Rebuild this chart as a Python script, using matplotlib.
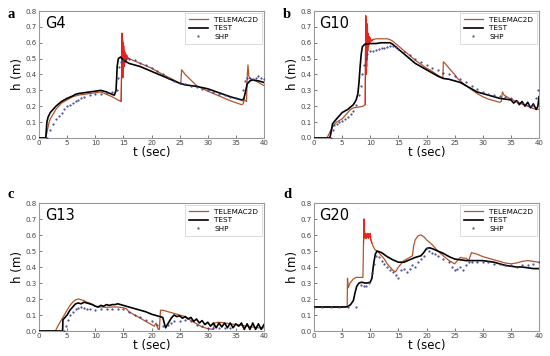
import numpy as np
import matplotlib
matplotlib.use("Agg")
import matplotlib.pyplot as plt

# ---------------- data (t [sec], h [m]) ----------------
gauges = ["G4", "G10", "G13", "G20"]
panel_letters = ["a", "b", "c", "d"]
series_names = ["TELEMAC2D", "TEST", "SHP"]
x_ticks = [0, 5, 10, 15, 20, 25, 30, 35, 40]
y_ticks = [0.0, 0.1, 0.2, 0.3, 0.4, 0.5, 0.6, 0.7, 0.8]

g4_telemac = np.array([
    [0, 0], [1.2, 0], [1.5, 0.05], [1.8, 0.1], [2, 0.12], [3, 0.18], [4, 0.22], [5, 0.24],
    [6, 0.26], [7, 0.27], [8, 0.275], [9, 0.28], [10, 0.285], [11, 0.29], [12, 0.275],
    [13, 0.26], [14, 0.24], [14.6, 0.23], [14.7, 0.45], [14.75, 0.66], [14.8, 0.4],
    [14.85, 0.62], [14.9, 0.38], [14.95, 0.6], [15.0, 0.42], [15.05, 0.58], [15.1, 0.45],
    [15.15, 0.55], [15.2, 0.47], [15.25, 0.54], [15.3, 0.48], [15.4, 0.53], [15.5, 0.49],
    [15.6, 0.52], [15.7, 0.5], [15.8, 0.505], [16, 0.5], [18, 0.47], [20, 0.44], [22, 0.4],
    [24, 0.365], [25.2, 0.34], [25.35, 0.43], [26, 0.40], [27, 0.365], [28, 0.33],
    [30, 0.295], [32, 0.265], [34, 0.235], [36, 0.21], [36.3, 0.215], [36.5, 0.24],
    [36.9, 0.23], [37.0, 0.38], [37.15, 0.46], [37.3, 0.39], [37.6, 0.37], [38, 0.37],
    [39, 0.35], [40, 0.33]])
g4_test = np.array([
    [0, 0], [1.2, 0], [1.4, 0.1], [1.6, 0.13], [2, 0.16], [3, 0.2], [4, 0.23], [5, 0.25],
    [6, 0.265], [6.5, 0.275], [7, 0.28], [8, 0.285], [9, 0.29], [10, 0.295], [11, 0.3],
    [12, 0.29], [13, 0.275], [13.4, 0.27], [13.7, 0.3], [13.9, 0.45], [14.1, 0.5],
    [14.5, 0.51], [15, 0.49], [15.5, 0.48], [16, 0.47], [18, 0.45], [20, 0.42], [22, 0.39],
    [24, 0.36], [25, 0.345], [26, 0.335], [27, 0.33], [28, 0.325], [30, 0.31], [32, 0.285],
    [34, 0.26], [35, 0.25], [36, 0.24], [36.4, 0.245], [36.7, 0.29], [37, 0.34],
    [37.5, 0.36], [38, 0.365], [39, 0.36], [40, 0.35]])
g4_shp = np.array([
    [1.5, 0.0], [2, 0.05], [2.5, 0.09], [3, 0.12], [3.5, 0.14], [4, 0.16], [4.5, 0.18],
    [5, 0.2], [5.5, 0.21], [6, 0.22], [6.5, 0.23], [7, 0.24], [7.5, 0.25], [8, 0.26],
    [9, 0.27], [10, 0.275], [11, 0.28], [12, 0.285], [13, 0.29], [13.8, 0.3], [14.1, 0.38],
    [14.3, 0.45], [14.5, 0.48], [15, 0.49], [15.5, 0.5], [16, 0.5], [17, 0.49], [18, 0.47],
    [19, 0.46], [20, 0.44], [21, 0.42], [22, 0.4], [23, 0.38], [24, 0.36], [25, 0.345],
    [26, 0.34], [27, 0.33], [28, 0.32], [29, 0.31], [30, 0.3], [31, 0.29], [32, 0.28],
    [33, 0.27], [34, 0.26], [35, 0.25], [36, 0.24], [36.3, 0.3], [36.6, 0.36], [37, 0.38],
    [37.5, 0.38], [38, 0.37], [38.5, 0.38], [39, 0.39], [39.5, 0.38], [40, 0.37]])

g10_telemac = np.array([
    [0, 0], [2.3, 0], [3, 0.05], [3.5, 0.08], [4, 0.1], [5, 0.12], [6, 0.16], [6.5, 0.18],
    [7, 0.19], [8, 0.195], [8.7, 0.2], [9.1, 0.21], [9.15, 0.5], [9.2, 0.77], [9.25, 0.4],
    [9.3, 0.75], [9.35, 0.45], [9.4, 0.72], [9.45, 0.5], [9.5, 0.7], [9.55, 0.55],
    [9.6, 0.66], [9.7, 0.58], [9.8, 0.64], [9.9, 0.6], [10.0, 0.63], [10.2, 0.61],
    [10.5, 0.62], [11, 0.625], [12, 0.625], [13, 0.625], [13.5, 0.62], [14, 0.61],
    [15, 0.58], [16, 0.55], [17, 0.52], [18, 0.49], [19, 0.465], [20, 0.44], [21, 0.42],
    [22, 0.395], [22.9, 0.375], [23.0, 0.48], [23.3, 0.47], [24, 0.44], [25, 0.4],
    [25.5, 0.375], [26, 0.36], [27, 0.33], [28, 0.305], [29, 0.28], [30, 0.26], [31, 0.245],
    [32, 0.235], [33, 0.225], [33.3, 0.23], [33.5, 0.29], [33.8, 0.27], [34.5, 0.255],
    [35, 0.245], [36, 0.23], [37, 0.215], [38, 0.2], [39, 0.185], [40, 0.18]])
g10_test = np.array([
    [0, 0], [2.8, 0], [3.0, 0.03], [3.3, 0.09], [4, 0.12], [5, 0.16], [6, 0.18], [7, 0.21],
    [7.5, 0.24], [7.8, 0.28], [8.0, 0.35], [8.2, 0.45], [8.4, 0.53], [8.6, 0.575],
    [9, 0.59], [10, 0.595], [11, 0.595], [12, 0.6], [13, 0.6], [13.5, 0.6], [14, 0.59],
    [15, 0.56], [16, 0.53], [17, 0.5], [18, 0.47], [19, 0.45], [20, 0.43], [21, 0.41],
    [22, 0.39], [23, 0.375], [24, 0.37], [25, 0.36], [26, 0.35], [27, 0.33], [28, 0.31],
    [29, 0.29], [30, 0.28], [31, 0.27], [32, 0.26], [33, 0.25], [34, 0.245], [35, 0.24],
    [35.5, 0.22], [36, 0.235], [36.5, 0.21], [37, 0.23], [37.5, 0.2], [38, 0.225],
    [38.5, 0.19], [39, 0.215], [39.5, 0.18], [39.8, 0.2], [40, 0.26]])
g10_shp = np.array([
    [3, 0], [3.3, 0.05], [3.6, 0.08], [4, 0.09], [4.5, 0.1], [5, 0.11], [5.5, 0.12],
    [6, 0.13], [6.5, 0.15], [7, 0.17], [7.5, 0.21], [8, 0.27], [8.3, 0.33], [8.6, 0.4],
    [8.9, 0.46], [9.2, 0.5], [9.5, 0.53], [10, 0.545], [10.5, 0.55], [11, 0.555],
    [11.5, 0.56], [12, 0.565], [12.5, 0.57], [13, 0.575], [13.5, 0.58], [14, 0.58],
    [14.5, 0.575], [15, 0.56], [16, 0.54], [17, 0.52], [18, 0.5], [19, 0.48], [20, 0.46],
    [21, 0.44], [22, 0.43], [23, 0.41], [24, 0.4], [25, 0.39], [26, 0.37], [27, 0.35],
    [28, 0.33], [29, 0.31], [30, 0.29], [31, 0.28], [32, 0.27], [33, 0.265], [34, 0.26],
    [35, 0.25], [36, 0.235], [37, 0.22], [38, 0.21], [38.5, 0.2], [39, 0.21], [39.5, 0.25],
    [39.8, 0.3]])

g13_telemac = np.array([
    [0, 0], [2.9, 0], [3.5, 0.04], [4, 0.07], [4.5, 0.1], [5, 0.13], [5.5, 0.16], [6, 0.18],
    [6.5, 0.195], [7, 0.2], [7.5, 0.195], [8, 0.19], [8.5, 0.18], [9, 0.175], [9.5, 0.165],
    [10, 0.155], [10.5, 0.15], [11, 0.15], [12, 0.148], [13, 0.15], [14, 0.15],
    [15, 0.145], [15.5, 0.14], [16, 0.12], [17, 0.1], [18, 0.08], [19, 0.06], [19.5, 0.05],
    [20, 0.04], [20.5, 0.03], [20.8, 0.05], [21.2, 0.01], [21.4, 0.01], [21.6, 0.13],
    [22, 0.13], [23, 0.12], [24, 0.11], [25, 0.1], [26, 0.09], [26.5, 0.08], [27, 0.065],
    [28, 0.045], [29, 0.025], [30, 0.015], [31, 0.01], [31.2, 0.05], [32, 0.055],
    [33, 0.05], [34, 0.045], [35, 0.04], [36, 0.035], [37, 0.03], [38, 0.025], [39, 0.02],
    [40, 0.02]])
g13_test = np.array([
    [0, 0], [4.2, 0], [4.25, 0.07], [4.5, 0.08], [5, 0.1], [5.5, 0.13], [6, 0.15],
    [6.5, 0.17], [7, 0.175], [7.5, 0.17], [8, 0.18], [8.5, 0.175], [9, 0.17], [9.5, 0.165],
    [10, 0.155], [10.5, 0.15], [11, 0.16], [11.5, 0.155], [12, 0.165], [12.5, 0.16],
    [13, 0.165], [13.5, 0.165], [14, 0.17], [14.5, 0.165], [15, 0.16], [15.5, 0.155],
    [16, 0.15], [17, 0.14], [18, 0.13], [19, 0.12], [20, 0.105], [21, 0.095], [21.5, 0.09],
    [22, 0.085], [22.5, 0.02], [23, 0.05], [23.5, 0.08], [24, 0.1], [24.5, 0.09],
    [25, 0.095], [25.5, 0.08], [26, 0.09], [26.5, 0.075], [27, 0.085], [27.5, 0.06],
    [28, 0.075], [28.5, 0.05], [29, 0.065], [29.5, 0.04], [30, 0.055], [30.5, 0.03],
    [31, 0.05], [31.5, 0.02], [32, 0.05], [32.5, 0.025], [33, 0.05], [33.5, 0.02],
    [34, 0.05], [34.5, 0.02], [35, 0.045], [35.5, 0.03], [36, 0.05], [36.5, 0.01],
    [37, 0.045], [37.5, 0.01], [38, 0.05], [38.5, 0.01], [39, 0.045], [39.5, 0.01],
    [40, 0.04]])
g13_shp = np.array([
    [4.5, 0], [4.8, 0.03], [5.1, 0.07], [5.5, 0.1], [6, 0.12], [6.5, 0.14], [7, 0.145],
    [7.5, 0.15], [8, 0.145], [8.5, 0.14], [9, 0.135], [10, 0.13], [11, 0.135], [12, 0.14],
    [13, 0.14], [14, 0.14], [15, 0.135], [16, 0.12], [17, 0.1], [18, 0.085], [19, 0.07],
    [20, 0.06], [21, 0.04], [22, 0.03], [23, 0.04], [23.5, 0.05], [24, 0.06], [25, 0.065],
    [26, 0.07], [27, 0.06], [28, 0.04], [29, 0.03], [30, 0.02], [31, 0.02], [32, 0.02],
    [33, 0.02], [34, 0.02]])

g20_telemac = np.array([
    [0, 0.15], [5.9, 0.15], [5.95, 0.33], [6.1, 0.27], [6.4, 0.3], [7, 0.325],
    [7.5, 0.335], [8, 0.335], [8.7, 0.335], [8.8, 0.55], [8.9, 0.7], [9.0, 0.6],
    [9.1, 0.58], [9.2, 0.61], [9.3, 0.58], [9.4, 0.6], [9.5, 0.585], [9.6, 0.61],
    [9.7, 0.58], [9.8, 0.6], [9.9, 0.59], [10.0, 0.61], [10.1, 0.57], [10.3, 0.55],
    [10.5, 0.53], [10.8, 0.51], [11.5, 0.49], [12, 0.47], [12.5, 0.45], [13, 0.42],
    [13.5, 0.4], [14, 0.38], [14.5, 0.37], [15, 0.4], [15.5, 0.42], [16, 0.44], [17, 0.46],
    [17.5, 0.47], [17.7, 0.53], [18, 0.57], [18.5, 0.595], [19, 0.6], [19.5, 0.59],
    [20, 0.57], [21, 0.54], [22, 0.5], [23, 0.47], [24, 0.44], [25, 0.42], [25.5, 0.44],
    [26, 0.46], [26.5, 0.455], [27, 0.455], [27.5, 0.44], [28, 0.49], [29, 0.48],
    [30, 0.465], [31, 0.455], [32, 0.445], [33, 0.435], [34, 0.425], [35, 0.42],
    [36, 0.425], [37, 0.435], [38, 0.44], [39, 0.435], [40, 0.43]])
g20_test = np.array([
    [0, 0.15], [5, 0.15], [6, 0.152], [6.5, 0.165], [7, 0.19], [7.3, 0.24], [7.6, 0.28],
    [8, 0.3], [8.5, 0.305], [9, 0.3], [9.5, 0.3], [10, 0.305], [10.3, 0.33], [10.6, 0.42],
    [10.9, 0.48], [11.2, 0.5], [12, 0.49], [13, 0.465], [14, 0.445], [15, 0.43], [16, 0.43],
    [17, 0.445], [18, 0.46], [19, 0.47], [19.5, 0.49], [20, 0.515], [20.5, 0.52],
    [21, 0.515], [22, 0.5], [23, 0.485], [24, 0.465], [25, 0.45], [26, 0.445], [27, 0.44],
    [28, 0.44], [29, 0.44], [30, 0.44], [31, 0.435], [32, 0.43], [33, 0.42], [34, 0.41],
    [35, 0.405], [36, 0.4], [37, 0.4], [38, 0.395], [39, 0.39], [40, 0.39]])
g20_shp = np.array([
    [0, 0.15], [1.5, 0.15], [3, 0.15], [4.5, 0.15], [6, 0.15], [7.5, 0.15], [8.3, 0.29],
    [8.8, 0.28], [9.3, 0.28], [9.8, 0.3], [10.3, 0.36], [10.7, 0.42], [11.1, 0.47],
    [11.5, 0.46], [12, 0.44], [12.5, 0.42], [13, 0.4], [13.5, 0.38], [14, 0.37],
    [14.5, 0.35], [15, 0.33], [15.5, 0.38], [16, 0.39], [16.5, 0.37], [17, 0.39],
    [17.5, 0.41], [18, 0.4], [18.5, 0.43], [19, 0.45], [19.5, 0.47], [20, 0.52],
    [20.5, 0.5], [21, 0.49], [21.5, 0.48], [22, 0.47], [23, 0.45], [24, 0.43], [24.5, 0.4],
    [25, 0.38], [25.5, 0.39], [26, 0.4], [26.5, 0.38], [27, 0.41], [27.5, 0.43], [28, 0.43],
    [29, 0.43], [30, 0.43], [31, 0.43], [32, 0.42], [33, 0.42], [34, 0.41], [35, 0.41],
    [36, 0.4], [37, 0.41], [38, 0.41], [39, 0.42], [40, 0.43]])

# time windows of the strongly oscillating TELEMAC2D response (drawn in red)
osc_windows = [(14.6, 16.0), (9.1, 10.5), None, (8.75, 10.3)]

telemac_data = [g4_telemac, g10_telemac, g13_telemac, g20_telemac]
test_data = [g4_test, g10_test, g13_test, g20_test]
shp_data = [g4_shp, g10_shp, g13_shp, g20_shp]

# ---------------- figure ----------------
fig = plt.figure(figsize=(5.5, 3.56), dpi=100)
W, H = 550, 356
boxes = [(39, 11, 264, 138), (314, 11, 539, 138), (39, 203, 264, 331), (314, 203, 539, 331)]
letter_pos = [(7, 15), (283, 15), (7, 195), (283, 195)]

TEL_COLOR = "#b5532a"
for i in range(4):
    x0, y0, x1, y1 = boxes[i]
    ax = fig.add_axes([x0 / W, 1 - y1 / H, (x1 - x0) / W, (y1 - y0) / H])
    tel, tst, shp = telemac_data[i], test_data[i], shp_data[i]
    ax.plot(tel[:, 0], tel[:, 1], color=TEL_COLOR, lw=0.9, label=series_names[0], zorder=3)
    win = osc_windows[i]
    if win is not None:
        m = (tel[:, 0] >= win[0]) & (tel[:, 0] <= win[1])
        ax.plot(tel[m, 0], tel[m, 1], color="#e8231c", lw=0.8, zorder=3.5)
    ax.plot(tst[:, 0], tst[:, 1], color="black", lw=1.2, label=series_names[1], zorder=4)
    ax.plot(shp[:, 0], shp[:, 1], ls="none", marker=".", ms=1.1, color="#3a3f86",
            label=series_names[2], zorder=5)
    ax.set_xlim(0, 40)
    ax.set_ylim(0, 0.8)
    ax.set_xticks(x_ticks)
    ax.set_yticks(y_ticks)
    ax.set_yticklabels([f"{v:.1f}" for v in y_ticks])
    ax.tick_params(direction="in", length=2, width=0.5, labelsize=5, pad=1.5,
                   colors="#444444")
    for s in ax.spines.values():
        s.set_color("#999999")
        s.set_linewidth(0.8)
    ax.set_xlabel("t (sec)", fontsize=8.5, labelpad=0)
    ax.set_ylabel("h (m)", fontsize=8.5, labelpad=1)
    ax.text(0.025, 0.96, gauges[i], transform=ax.transAxes, ha="left", va="top",
            fontsize=10.5)
    leg = ax.legend(loc="upper right", fontsize=5.2, frameon=True, fancybox=False,
                    borderpad=0.5, labelspacing=0.35, handlelength=2.6, handletextpad=0.9,
                    borderaxespad=0.3, markerscale=1.0)
    leg.get_frame().set_edgecolor("#cccccc")
    leg.get_frame().set_linewidth(0.6)
    lx, ly = letter_pos[i]
    fig.text(lx / W, 1 - ly / H, panel_letters[i], fontsize=10.5, fontweight="bold",
             family="Liberation Serif", ha="left", va="center")

fig.savefig("out.png", dpi=100)
